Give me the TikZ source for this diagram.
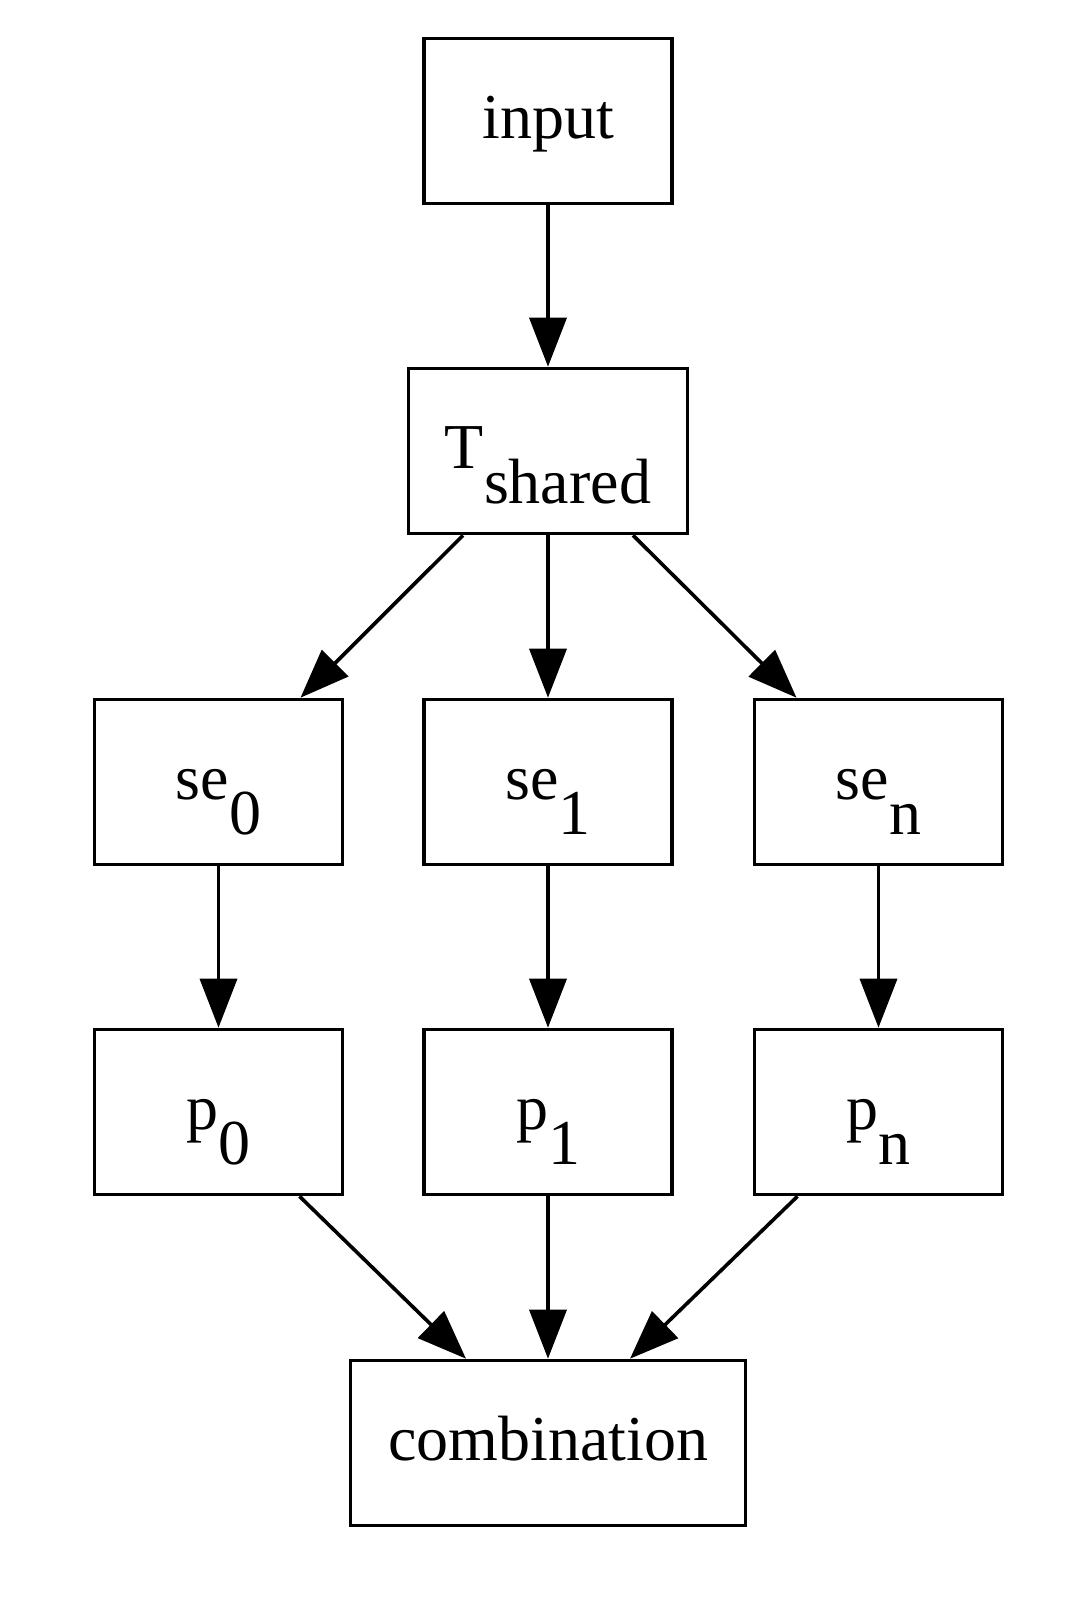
\documentclass[tikz,border=0pt]{standalone}
\usepackage{fontspec}
\setmainfont{Liberation Serif}
\usetikzlibrary{arrows.meta}
\newcommand{\bajo}[1]{\raisebox{-17.5pt}{#1}}

\begin{document}
\begin{tikzpicture}[x=0.5pt,y=-0.5pt,
  bloque/.style={draw,line width=1.8pt,minimum width=124pt,minimum height=82.5pt,
    inner sep=0pt,font=\fontsize{32}{38}\selectfont,text height=19.8pt,text depth=1.9pt},
  flecha/.style={line width=1.8pt,-{Triangle[length=24.5pt,width=18.5pt]}}]
  \useasboundingbox (0,0) rectangle (1076,1613);
  \node[bloque] (input) at (548,121) {input};
  \node[bloque,minimum width=139.5pt] (tshared) at (548,451) {T\bajo{shared}};
  \node[bloque] (se0) at (218.5,782) {se\bajo{0}};
  \node[bloque] (se1) at (548,782) {se\bajo{1}};
  \node[bloque] (sen) at (878.5,782) {se\bajo{n}};
  \node[bloque] (p0) at (218.5,1112) {p\bajo{0}};
  \node[bloque] (p1) at (548,1112) {p\bajo{1}};
  \node[bloque] (pn) at (878.5,1112) {p\bajo{n}};
  \node[bloque,minimum width=197.5pt] (comb) at (548,1443) {combination};
  \draw[flecha] (input) -- (tshared);
  \draw[flecha] ([xshift=-42.5pt]tshared.south) -- ([xshift=41pt]se0.north);
  \draw[flecha] (tshared) -- (se1);
  \draw[flecha] ([xshift=42.5pt]tshared.south) -- ([xshift=-41pt]sen.north);
  \draw[flecha] (se0) -- (p0);
  \draw[flecha] (se1) -- (p1);
  \draw[flecha] (sen) -- (pn);
  \draw[flecha] ([xshift=40.5pt]p0.south) -- ([xshift=-41pt]comb.north);
  \draw[flecha] (p1) -- (comb);
  \draw[flecha] ([xshift=-40.5pt]pn.south) -- ([xshift=41pt]comb.north);
\end{tikzpicture}
\end{document}
